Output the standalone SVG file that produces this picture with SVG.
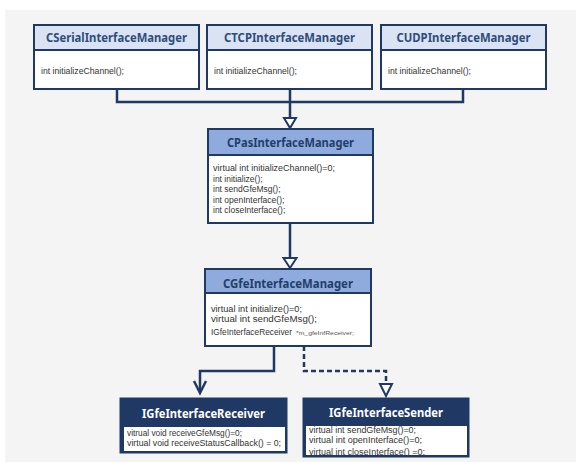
<svg xmlns="http://www.w3.org/2000/svg" width="582" height="466" viewBox="0 0 582 466">
<style>
.box{fill:#fff;stroke:#1f3864;stroke-width:2}
.hdr1{fill:#dae3f3;stroke:#1f3864;stroke-width:2}
.hdr2{fill:#8faadc;stroke:#1f3864;stroke-width:2}
.dark{fill:#1f3864;stroke:#1f3864;stroke-width:1}
.inset{fill:#fff;stroke:none}
.t1{font-family:"Noto Sans","Open Sans",sans-serif;font-weight:bold;font-size:12.5px;fill:#2e4d7b;text-anchor:middle}
.t2{font-family:"Noto Sans","Open Sans",sans-serif;font-weight:bold;font-size:12.5px;fill:#1f3f6a;text-anchor:middle}
.t3{font-family:"Noto Sans","Open Sans",sans-serif;font-weight:bold;font-size:12.5px;fill:#fff;text-anchor:middle}
.b{font-family:"Liberation Sans","Noto Sans",sans-serif;font-size:8.5px;fill:#333}
.bs{font-family:"Liberation Sans","Noto Sans",sans-serif;font-size:5.5px;fill:#555}
.ln{fill:none;stroke:#1f3864;stroke-width:2.5}
.dash{fill:none;stroke:#1f3864;stroke-width:2.5;stroke-dasharray:5 3}
.tri{fill:#fff;stroke:#1f3864;stroke-width:2}
</style>
<rect x="0" y="0" width="582" height="466" fill="#ffffff"/>
<rect x="5" y="10" width="571" height="452" fill="#f4f4f4"/>

<g id="connectors">
<path class="ln" d="M117,89 V102 H463 V89"/>
<path class="ln" d="M290,89 V118"/>
<polygon class="tri" points="284,118 296,118 290,128"/>
<path class="ln" d="M290,223 V258"/>
<polygon class="tri" points="283.5,258 296.5,258 290,268"/>
<path class="ln" d="M274,346 V371 H200 V392"/>
<path class="ln" d="M194,381 L200,393 L206,381"/>
<path class="dash" d="M304,346 V371 H386 V384"/>
<polygon class="tri" points="380,384 392,384 386,396"/>
</g>

<g id="CSerialInterfaceManager">
<rect class="box" x="34" y="25" width="165" height="64"/>
<rect class="hdr1" x="34" y="25" width="165" height="25"/>
<text class="t1" x="116.5" y="42" textLength="141" lengthAdjust="spacingAndGlyphs">CSerialInterfaceManager</text>
<text class="b" x="41" y="74" textLength="83" lengthAdjust="spacingAndGlyphs">int initializeChannel();</text>
</g>

<g id="CTCPInterfaceManager">
<rect class="box" x="207" y="25" width="165" height="64"/>
<rect class="hdr1" x="207" y="25" width="165" height="25"/>
<text class="t1" x="289.5" y="42" textLength="131" lengthAdjust="spacingAndGlyphs">CTCPInterfaceManager</text>
<text class="b" x="214" y="74" textLength="83" lengthAdjust="spacingAndGlyphs">int initializeChannel();</text>
</g>

<g id="CUDPInterfaceManager">
<rect class="box" x="381" y="25" width="165" height="64"/>
<rect class="hdr1" x="381" y="25" width="165" height="25"/>
<text class="t1" x="463.5" y="42" textLength="134" lengthAdjust="spacingAndGlyphs">CUDPInterfaceManager</text>
<text class="b" x="388" y="74" textLength="83" lengthAdjust="spacingAndGlyphs">int initializeChannel();</text>
</g>

<g id="CPasInterfaceManager">
<rect class="box" x="208" y="129" width="165" height="94"/>
<rect class="hdr2" x="208" y="129" width="165" height="26"/>
<text class="t2" x="290.5" y="146.5" textLength="127" lengthAdjust="spacingAndGlyphs">CPasInterfaceManager</text>
<text class="b" x="213" y="171" textLength="122" lengthAdjust="spacingAndGlyphs">virtual int initializeChannel()=0;</text>
<text class="b" x="213" y="181.5">int initialize();</text>
<text class="b" x="213" y="192">int sendGfeMsg();</text>
<text class="b" x="213" y="202.5">int openInterface();</text>
<text class="b" x="213" y="213">int closeInterface();</text>
</g>

<g id="CGfeInterfaceManager">
<rect class="box" x="205" y="269" width="166" height="77"/>
<rect class="hdr2" x="205" y="269" width="166" height="24"/>
<text class="t2" x="288" y="287.5" textLength="130" lengthAdjust="spacingAndGlyphs">CGfeInterfaceManager</text>
<text class="b" x="211" y="312" textLength="91" lengthAdjust="spacingAndGlyphs">virtual int initialize()=0;</text>
<text class="b" x="211" y="322" textLength="106" lengthAdjust="spacingAndGlyphs">virtual int sendGfeMsg();</text>
<text class="b" x="211" y="335" textLength="81" lengthAdjust="spacingAndGlyphs">IGfeInterfaceReceiver</text>
<text class="bs" x="296" y="335" textLength="58" lengthAdjust="spacingAndGlyphs">*m_gfeInfReceiver;</text>
</g>

<g id="IGfeInterfaceReceiver">
<rect class="dark" x="120" y="398" width="167" height="55"/>
<rect class="inset" x="124" y="427" width="161" height="24"/>
<text class="t3" x="203.5" y="417.5" textLength="123" lengthAdjust="spacingAndGlyphs">IGfeInterfaceReceiver</text>
<text class="b" x="127" y="436" textLength="115" lengthAdjust="spacingAndGlyphs">vitrual void receiveGfeMsg()=0;</text>
<text class="b" x="127" y="446" textLength="154" lengthAdjust="spacingAndGlyphs">virtual void receiveStatusCallback() = 0;</text>
</g>

<g id="IGfeInterfaceSender">
<rect class="dark" x="303" y="398" width="166" height="59"/>
<rect class="inset" x="306" y="426" width="161" height="29"/>
<text class="t3" x="386" y="416.5" textLength="114" lengthAdjust="spacingAndGlyphs">IGfeInterfaceSender</text>
<text class="b" x="309" y="433" textLength="107" lengthAdjust="spacingAndGlyphs">virtual int sendGfeMsg()=0;</text>
<text class="b" x="309" y="443" textLength="113" lengthAdjust="spacingAndGlyphs">virtual int openInterface()=0;</text>
<text class="b" x="309" y="455" textLength="116" lengthAdjust="spacingAndGlyphs">virtual int closeInterface() =0;</text>
<rect x="303" y="455" width="166" height="2" fill="#1f3864"/>
</g>
</svg>
